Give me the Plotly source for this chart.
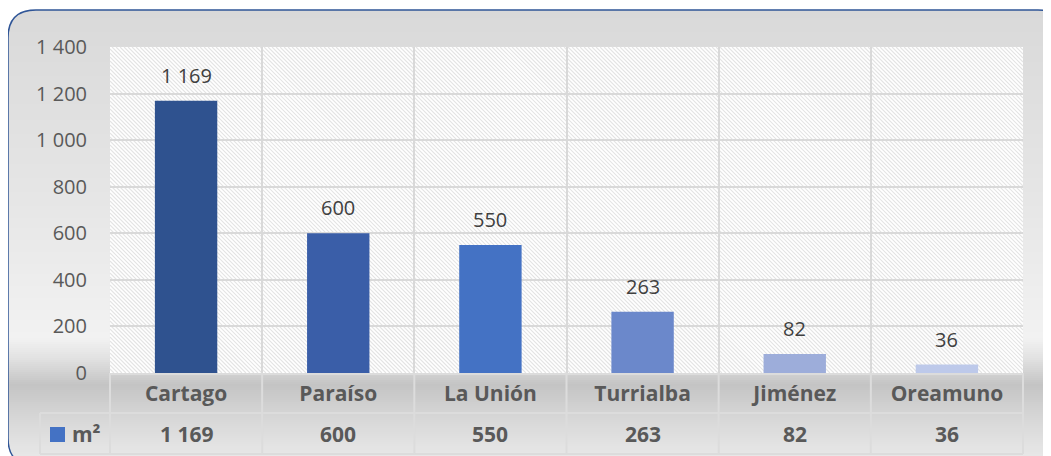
import plotly.graph_objects as go

# ---- data ----
categories = ["Cartago", "Paraíso", "La Unión", "Turrialba", "Jiménez", "Oreamuno"]
values_m2 = [1169, 600, 550, 263, 82, 36]
bar_colors = ["#2F528F", "#3A5EA8", "#4472C4", "#6B88CB", "#9DADDA", "#BDC9EA"]
series_name = "m²"
y_ticks = [0, 200, 400, 600, 800, 1000, 1200, 1400]

OFF = 8  # page body margin offset
W, H = 1051, 456
FONT = "Open Sans"
GREY = "#595959"

def px(x):
    return (x - OFF) / W

def py(y):
    return 1 - (y - OFF) / H

# plot area in screen pixels
X0, X1, Y0, Y1 = 110, 1023, 47, 373

shapes = []

# ---- background gradient (vertical) ----
stops = [(10, (217, 217, 217)), (200, (230, 230, 230)), (338, (242, 242, 242)),
         (358, (226, 226, 226)), (385, (196, 196, 196)), (412, (212, 212, 212)),
         (466, (236, 236, 236))]

def col_at(y):
    for (ya, ca), (yb, cb) in zip(stops[:-1], stops[1:]):
        if ya <= y <= yb:
            t = (y - ya) / (yb - ya)
            return tuple(round(a + (b - a) * t) for a, b in zip(ca, cb))
    return stops[-1][1]

y = 10
step = 2
while y < 466:
    c = col_at(y + step / 2)
    shapes.append(dict(type="rect", xref="paper", yref="paper", layer="below",
                       x0=px(8), x1=px(1066), y0=py(y), y1=py(y + step + 0.5),
                       line=dict(width=0), fillcolor="rgb(%d,%d,%d)" % c))
    y += step

# white outside the rounded corners
R = 28
def corner(cx, cy, sx, sy):
    return dict(type="path", xref="paper", yref="paper", layer="below",
                path="M %f,%f Q %f,%f %f,%f L %f,%f Z" % (
                    px(cx), py(cy + sy * R), px(cx), py(cy), px(cx + sx * R), py(cy),
                    px(cx - sx), py(cy - sy)),
                fillcolor="white", line=dict(width=0))
shapes.append(corner(8, 10, 1, 1))
shapes.append(corner(8, 466, 1, -1))
shapes.append(corner(1066, 10, -1, 1))

# ---- plot area: white with diagonal hatch ----
shapes.append(dict(type="rect", xref="paper", yref="paper", layer="below",
                   x0=px(X0), x1=px(X1), y0=py(Y1), y1=py(Y0),
                   fillcolor="white", line=dict(width=0)))
segs = []
c = X0 - Y1
while c <= X1 - Y0:
    ya = max(Y0, X0 - c)
    yb = min(Y1, X1 - c)
    if yb > ya:
        segs.append("M %.5f,%.5f L %.5f,%.5f" % (px(ya + c), py(ya), px(yb + c), py(yb)))
    c += 4
shapes.append(dict(type="path", xref="paper", yref="paper", layer="below",
                   path=" ".join(segs), line=dict(color="#E4E4E4", width=1.1)))

# ---- data table lines ----
TL = "#DCDCDC"
cw = (X1 - X0) / len(categories)
def hline(x0, x1, yy):
    shapes.append(dict(type="line", xref="paper", yref="paper", layer="above",
                       x0=px(x0), x1=px(x1), y0=py(yy), y1=py(yy), line=dict(color=TL, width=2)))
def vline(xx, y0, y1):
    shapes.append(dict(type="line", xref="paper", yref="paper", layer="above",
                       x0=px(xx), x1=px(xx), y0=py(y0), y1=py(y1), line=dict(color=TL, width=2)))
hline(X0, X1, Y1 + 1)
hline(40, X1, 413)
hline(40, X1, 454)
vline(40, 413, 454)
for i in range(len(categories) + 1):
    vline(X0 + i * cw, Y1, 454)

# legend key
shapes.append(dict(type="rect", xref="paper", yref="paper", layer="above",
                   x0=px(50), x1=px(65), y0=py(442), y1=py(427),
                   fillcolor="#4472C4", line=dict(width=0)))

# ---- border ----
L_, T_, Rr, B_ = 8, 10, 1066, 466
border = ("M %f,%f L %f,%f Q %f,%f %f,%f L %f,%f Q %f,%f %f,%f L %f,%f Q %f,%f %f,%f L %f,%f Q %f,%f %f,%f Z" % (
    px(L_), py(B_ - R), px(L_), py(T_ + R), px(L_), py(T_), px(L_ + R), py(T_),
    px(Rr - R), py(T_), px(Rr), py(T_), px(Rr), py(T_ + R),
    px(Rr), py(B_ - R), px(Rr), py(B_), px(Rr - R), py(B_),
    px(L_ + R), py(B_), px(L_), py(B_), px(L_), py(B_ - R)))
shapes.append(dict(type="path", xref="paper", yref="paper", layer="above",
                   path=border, line=dict(color="#2F5597", width=1.5)))

fig = go.Figure()
fig.add_trace(go.Bar(x=categories, y=values_m2, marker=dict(color=bar_colors, line=dict(width=0)),
                     width=0.41, name=series_name, showlegend=False, hoverinfo="x+y"))

def fmt(v):
    return format(v, ",").replace(",", " ")

annotations = []
for cat, v in zip(categories, values_m2):
    annotations.append(dict(x=cat, y=v, xref="x", yref="y", text=fmt(v),
                            showarrow=False, yanchor="bottom", yshift=10,
                            font=dict(family=FONT, size=20, color="#404040")))
    annotations.append(dict(x=cat, y=py(434), xref="x", yref="paper", text=fmt(v),
                            showarrow=False, yanchor="middle",
                            font=dict(family=FONT, size=21, color=GREY, weight="bold")))
annotations.append(dict(x=px(70), y=py(434), xref="paper", yref="paper", text=series_name,
                        showarrow=False, xanchor="left", yanchor="middle",
                        font=dict(family=FONT, size=21, color=GREY, weight="bold")))

fig.update_layout(
    width=W, height=H,
    margin=dict(l=0, r=0, t=0, b=0, pad=0, autoexpand=False),
    paper_bgcolor="white",
    plot_bgcolor="rgba(0,0,0,0)",
    separators=", ",
    showlegend=False,
    shapes=shapes,
    annotations=annotations,
    xaxis=dict(domain=[px(X0), px(X1)], type="category", tickson="boundaries",
               showgrid=True, gridcolor="#D9D9D9", gridwidth=2, ticks="", showline=False,
               tickfont=dict(family=FONT, size=21, color=GREY, weight="bold"),
               ticklabelstandoff=6, fixedrange=True, automargin=False),
    yaxis=dict(domain=[py(Y1), py(Y0)], range=[0, 1400], tickvals=y_ticks, tickformat=",",
               showgrid=True, gridcolor="#D9D9D9", gridwidth=2, zeroline=False, showline=False,
               tickfont=dict(family=FONT, size=20, color=GREY), ticks="",
               ticklabelstandoff=22, fixedrange=True, automargin=False),
    font=dict(family=FONT),
)

fig.write_html("out.html")
